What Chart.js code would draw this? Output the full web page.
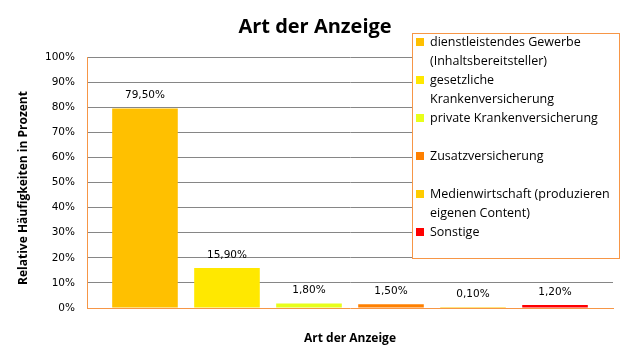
<!DOCTYPE html>
<html>
<head>
<meta charset="utf-8">
<script src="https://cdn.jsdelivr.net/npm/chart.js@4/dist/chart.umd.min.js"></script>
<style>
html,body{margin:0;padding:0;background:#fff;}
#wrap{width:628px;height:358px;}
</style>
</head>
<body>
<div id="wrap"><canvas id="c" width="628" height="358"></canvas></div>
<script>
// ---- data ----
const chartTitle = "Art der Anzeige";
const xAxisTitle = "Art der Anzeige";
const yAxisTitle = "Relative Häufigkeiten in Prozent";
const categories = [
  ["dienstleistendes Gewerbe", "(Inhaltsbereitsteller)"],
  ["gesetzliche", "Krankenversicherung"],
  ["private Krankenversicherung"],
  ["Zusatzversicherung"],
  ["Medienwirtschaft (produzieren", "eigenen Content)"],
  ["Sonstige"]
];
const values = [79.5, 15.9, 1.8, 1.5, 0.1, 1.2];
const barColors = ["#FFC000", "#FFE800", "#E8FF1A", "#FF8000", "#FFCC00", "#FF0000"];
const yTicks = [0, 10, 20, 30, 40, 50, 60, 70, 80, 90, 100];

const ORANGE = "#F79646";
const GRID = "#868686";
const FONT = "'Open Sans', sans-serif";

const points = values.map((v, i) => ({ x: i, y: v }));

const textPlugin = {
  id: 'texts',
  afterDatasetsDraw(chart) {
    const ctx = chart.ctx;
    const meta = chart.getDatasetMeta(0);
    ctx.save();
    ctx.font = "10.5px 'DejaVu Sans', sans-serif";
    ctx.fillStyle = "#000";
    ctx.textAlign = "center";
    ctx.textBaseline = "middle";
    const ys = chart.scales.y;
    meta.data.forEach((bar, i) => {
      const txt = values[i].toFixed(2).replace('.', ',') + '%';
      ctx.fillText(txt, bar.x, ys.getPixelForValue(values[i]) - 13);
    });
    ctx.restore();
  },
  afterDraw(chart) {
    const ctx = chart.ctx;
    const ca = chart.chartArea;
    ctx.save();
    ctx.fillStyle = "#000";
    ctx.textAlign = "center";
    ctx.textBaseline = "middle";
    ctx.font = "bold 20px " + FONT;
    ctx.fillText(chartTitle, 315, 27);
    ctx.font = "bold 12px " + FONT;
    ctx.fillText(xAxisTitle, (ca.left + ca.right) / 2, 339);
    ctx.save();
    ctx.translate(24, 188);
    ctx.rotate(-Math.PI / 2);
    ctx.fillText(yAxisTitle, 0, 0);
    ctx.restore();

    // legend
    const lx = 412.5, ly = 33.5, lw = 207, lh = 225;
    ctx.fillStyle = "#fff";
    ctx.fillRect(lx, ly, lw, lh);
    ctx.strokeStyle = ORANGE;
    ctx.lineWidth = 1;
    ctx.strokeRect(lx, ly, lw, lh);
    ctx.font = "12.5px " + FONT;
    ctx.textAlign = "left";
    ctx.textBaseline = "middle";
    categories.forEach((lines, i) => {
      const y0 = 42 + i * 38;
      ctx.fillStyle = barColors[i];
      ctx.fillRect(416, y0 - 4, 8, 8);
      ctx.fillStyle = "#000";
      lines.forEach((ln, j) => {
        ctx.fillText(ln, 430, y0 + j * 19);
      });
    });
    ctx.restore();
  }
};

new Chart(document.getElementById('c'), {
  type: 'bar',
  data: {
    datasets: [{
      data: points,
      backgroundColor: barColors,
      borderWidth: 0,
      minBarLength: 1,
      categoryPercentage: 0.8,
      barPercentage: 1.0
    }]
  },
  options: {
    responsive: false,
    animation: false,
    layout: { padding: { left: 0, top: 57, right: 15, bottom: 50 } },
    plugins: { legend: { display: false }, tooltip: { enabled: false }, title: { display: false } },
    scales: {
      x: {
        type: 'linear',
        min: -0.707,
        max: 5.707,
        offset: false,
        afterBuildTicks(s) { s.ticks = values.map((v, i) => ({ value: i })); },
        grid: { display: false, drawTicks: false },
        ticks: { display: false },
        border: { color: ORANGE, width: 1 },
        afterFit(s) { s.height = 0; }
      },
      y: {
        min: 0,
        max: 100,
        afterBuildTicks(s) { s.ticks = yTicks.map(v => ({ value: v })); },
        grid: {
          drawTicks: false,
          color: ctx => (ctx.tick && ctx.tick.value === 0) ? 'rgba(0,0,0,0)' : GRID,
          lineWidth: 1
        },
        border: { color: ORANGE, width: 1 },
        ticks: {
          padding: 12,
          color: "#000",
          font: { family: "'DejaVu Sans', sans-serif", size: 10.5 },
          callback: v => v + '%'
        },
        afterFit(s) { s.width = 87; }
      }
    }
  },
  plugins: [textPlugin]
});
</script>
</body>
</html>
